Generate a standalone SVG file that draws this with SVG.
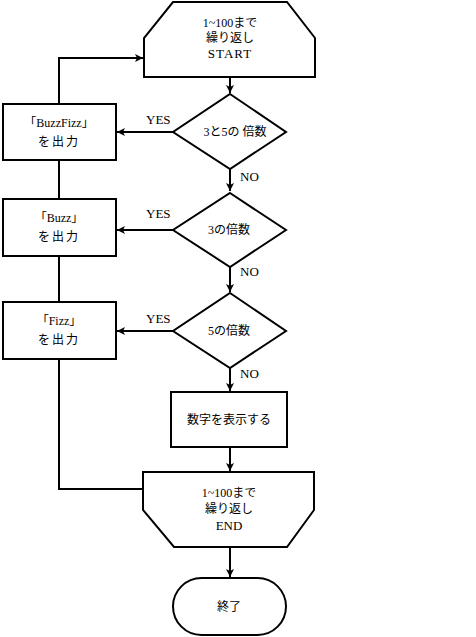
<svg xmlns="http://www.w3.org/2000/svg" width="476" height="637" viewBox="0 0 476 637">
<style>
.s{fill:#fff;stroke:#000;stroke-width:2}
.c{fill:none;stroke:#000;stroke-width:2}
text{font-family:"Liberation Serif","Noto Sans CJK JP",serif;font-size:12px;fill:#000;text-anchor:middle}
.l{text-anchor:start;font-size:13px}
.e{font-size:13px}
</style>
<defs>
<marker id="a" markerUnits="userSpaceOnUse" markerWidth="10" markerHeight="10" refX="8" refY="4" orient="auto">
<path d="M0,0 L8,4 L0,8 L2,4 z" fill="#000"/>
</marker>
</defs>
<rect width="476" height="637" fill="#fff"/>
<g id="connectors">
<polyline class="c" points="59,104 59,58 143,58" marker-end="url(#a)"/>
<line class="c" x1="59" y1="160" x2="59" y2="199"/>
<line class="c" x1="59" y1="256" x2="59" y2="302"/>
<polyline class="c" points="59,359 59,489 143,489"/>
<line class="c" x1="230" y1="77" x2="230" y2="93" marker-end="url(#a)"/>
<line class="c" x1="173" y1="132" x2="117" y2="132" marker-end="url(#a)"/>
<line class="c" x1="230" y1="169" x2="230" y2="191" marker-end="url(#a)"/>
<line class="c" x1="173" y1="230" x2="117" y2="230" marker-end="url(#a)"/>
<line class="c" x1="230" y1="267" x2="230" y2="292" marker-end="url(#a)"/>
<line class="c" x1="173" y1="331" x2="117" y2="331" marker-end="url(#a)"/>
<line class="c" x1="230" y1="368" x2="230" y2="391" marker-end="url(#a)"/>
<line class="c" x1="230" y1="447" x2="230" y2="471" marker-end="url(#a)"/>
<line class="c" x1="230" y1="547" x2="230" y2="577" marker-end="url(#a)"/>
<text class="l" x="146" y="124">YES</text>
<text class="l" x="146" y="218">YES</text>
<text class="l" x="146" y="323">YES</text>
<text class="l" x="240" y="181">NO</text>
<text class="l" x="240" y="276">NO</text>
<text class="l" x="240" y="378">NO</text>
</g>
<g id="start">
<polygon class="s" points="173,2 287,2 315,38 315,77 144,77 144,38"/>
<text x="230" y="27">1~100まで</text>
<text x="230" y="42">繰り返し</text>
<text class="e" x="230" y="58" letter-spacing="1">START</text>
</g>
<g id="d1">
<polygon class="s" points="230,94 286,132 230,169 173,132"/>
<text x="235" y="136">3と5の 倍数</text>
</g>
<g id="buzzfizz">
<rect class="s" x="3" y="104" width="113" height="56"/>
<text x="59" y="127">「BuzzFizz」</text>
<text x="59" y="146" letter-spacing="2">を出力</text>
</g>
<g id="d2">
<polygon class="s" points="230,193 286,230 230,267 173,230"/>
<text x="229" y="234">3の倍数</text>
</g>
<g id="buzz">
<rect class="s" x="3" y="199" width="113" height="57"/>
<text x="59" y="222">「Buzz」</text>
<text x="59" y="241" letter-spacing="2">を出力</text>
</g>
<g id="d3">
<polygon class="s" points="230,293 286,331 230,368 173,331"/>
<text x="229" y="335">5の倍数</text>
</g>
<g id="fizz">
<rect class="s" x="3" y="302" width="113" height="57"/>
<text x="59" y="325">「Fizz」</text>
<text x="59" y="344" letter-spacing="2">を出力</text>
</g>
<g id="print">
<rect class="s" x="171" y="392" width="116" height="55"/>
<text x="229" y="424">数字を表示する</text>
</g>
<g id="end">
<polygon class="s" points="143,472 314,472 314,510 287,547 174,547 143,510"/>
<text x="229" y="497">1~100まで</text>
<text x="229" y="513">繰り返し</text>
<text class="e" x="229" y="530">END</text>
</g>
<g id="terminal">
<rect class="s" x="173" y="578" width="113" height="57" rx="28.5"/>
<text x="229" y="611">終了</text>
</g>
</svg>
